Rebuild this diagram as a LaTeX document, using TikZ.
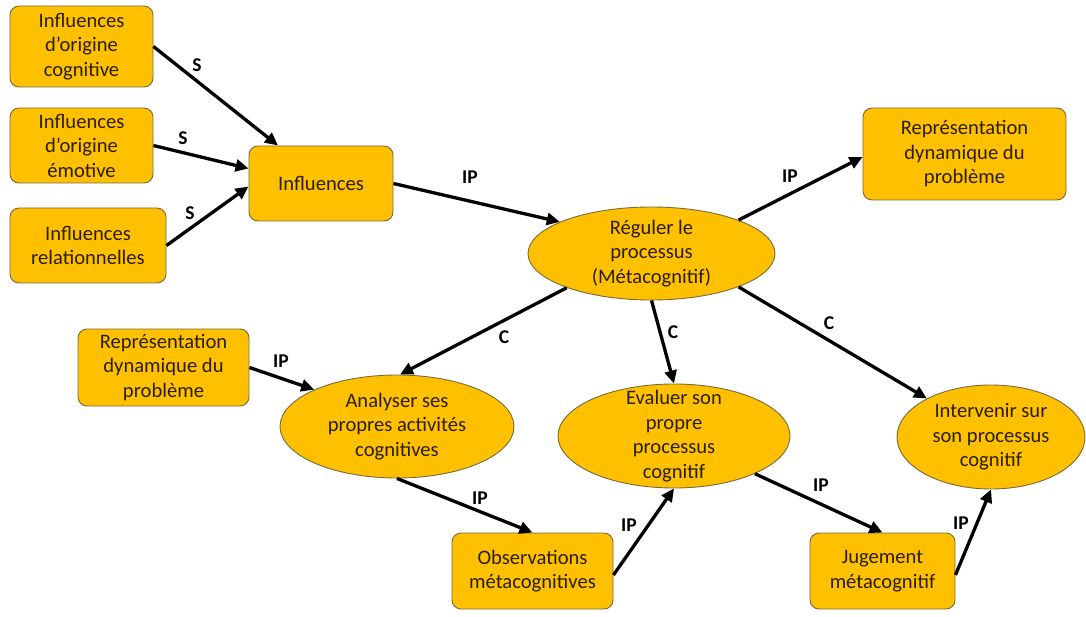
\documentclass[tikz,border=0pt]{standalone}
\usepackage{fontspec}
\setmainfont{Carlito}
\usetikzlibrary{shapes.geometric,arrows.meta}
\definecolor{boxfill}{HTML}{FFC000}
\definecolor{boxline}{HTML}{7A6A3A}
\definecolor{txt}{HTML}{2A2000}
\begin{document}
\begin{tikzpicture}[x=1pt,y=-1pt,
  box/.style={draw=boxline, line width=0.9pt, fill=boxfill, rounded corners=9pt, align=center, inner sep=0pt, font=\fontsize{20.6}{24.5}\selectfont, text=txt},
  oval/.style={ellipse, draw=boxline, line width=0.9pt, fill=boxfill, inner sep=0pt},
  otext/.style={align=center, font=\fontsize{20.6}{24.5}\selectfont, text=txt},
  arr/.style={line width=3.3pt, -{Triangle[length=13pt,width=12pt]}},
  lab/.style={font=\bfseries\fontsize{19.5}{22}\selectfont, text=black}]
\useasboundingbox[fill=white] (0,0) rectangle (1086,617);

% rectangles
\node[box, minimum width=143pt, minimum height=81pt] (A1) at (81.5,46.5) {Influences\\d’origine\\cognitive};
\node[box, minimum width=143pt, minimum height=75pt] (A2) at (81.5,145.5) {Influences\\d’origine\\émotive};
\node[box, minimum width=156pt, minimum height=75pt] (A3) at (88,245.5) {Influences\\relationnelles};
\node[box, minimum width=144pt, minimum height=75pt] (Inf) at (321,183.5) {Influences};
\node[box, minimum width=203pt, minimum height=92pt] (Rep1) at (964.5,154) {Représentation\\dynamique du\\problème};
\node[box, minimum width=171pt, minimum height=77pt] (Rep2) at (163.5,367.5) {Représentation\\dynamique du\\problème};
\node[box, minimum width=161pt, minimum height=76pt] (Obs) at (532.5,571) {Observations\\métacognitives};
\node[box, minimum width=145pt, minimum height=76pt] (Jug) at (882.5,571) {Jugement\\métacognitif};

% ellipses
\node[oval, minimum width=247pt, minimum height=93pt,
  label={[otext]center:{Réguler le\\processus\\(Métacognitif)}}] (Reg) at (651.5,253.5) {};
\node[oval, minimum width=234pt, minimum height=103pt,
  label={[otext]center:{Analyser ses\\propres activités\\cognitives}}] (Ana) at (397,426.5) {};
\node[oval, minimum width=232pt, minimum height=104pt,
  label={[otext]center:{Evaluer son\\propre\\processus\\cognitif}}] (Eva) at (674,436) {};
\node[oval, minimum width=188pt, minimum height=104pt,
  label={[otext]center:{Intervenir sur\\son processus\\cognitif}}] (Int) at (991,437) {};

% connectors
\draw[arr] (A1.east) -- ([xshift=-43pt]Inf.north);
\draw[arr] (A2.east) -- ([yshift=15pt]Inf.west);
\draw[arr] (A3.east) -- ([yshift=-3pt]Inf.west);
\draw[arr] (Inf.east) -- (Reg.161);
\draw[arr] (Reg.21) -- ([yshift=-3pt]Rep1.west);
\draw[arr] (Reg.202) -- ([xshift=3pt]Ana.north);
\draw[arr] (Reg.south) -- (Eva.north);
\draw[arr] (Reg.-21) -- (Int.149);
\draw[arr] (Rep2.east) -- (Ana.156);
\draw[arr] (Ana.south) -- (Obs.north);
\draw[arr] ([yshift=-4pt]Obs.east) -- (Eva.south);
\draw[arr] (Eva.-25) -- (Jug.north);
\draw[arr] ([yshift=-4pt]Jug.east) -- (Int.south);

% labels
\node[lab] (s1) at (197,65) {S};
\node[lab] (s2) at (183,138) {S};
\node[lab] (s3) at (190,213) {S};
\node[lab] (ip1) at (470,177) {IP};
\node[lab] (ip2) at (790,176) {IP};
\node[lab] (ip3) at (281,361) {IP};
\node[lab] (c1) at (504,337) {C};
\node[lab] (c2) at (673,332) {C};
\node[lab] (c3) at (829,323) {C};
\node[lab] (ip4) at (480,498) {IP};
\node[lab] (ip5) at (629,525) {IP};
\node[lab] (ip6) at (821,485) {IP};
\node[lab] (ip7) at (961,523) {IP};
\end{tikzpicture}
\end{document}
